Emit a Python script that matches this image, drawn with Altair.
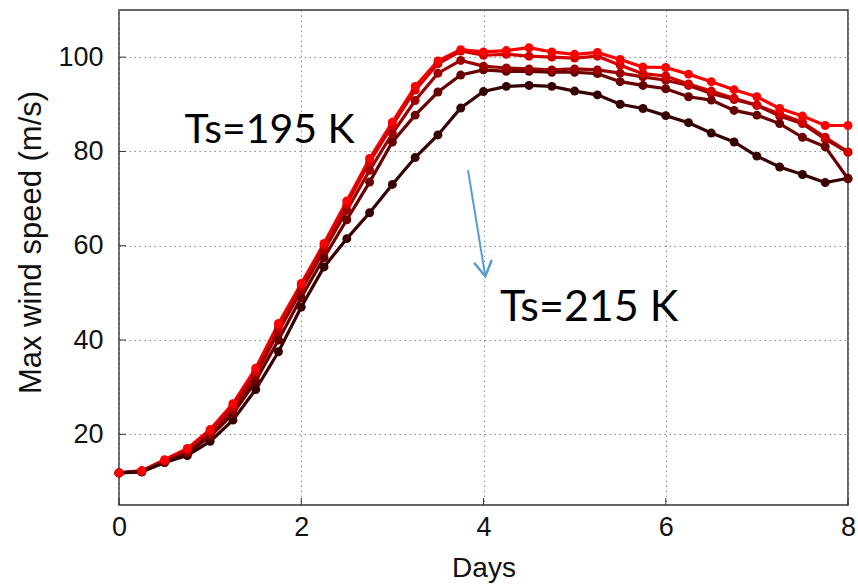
import altair as alt
import pandas as pd

days = [i * 0.25 for i in range(33)]

s195 = [11.8, 12.3, 14.6, 17.0, 21.0, 26.5, 34.0, 43.5, 52.0, 60.5, 69.5, 78.5, 86.2, 93.8, 99.2, 101.6,
        101.1, 101.4, 102.0, 101.1, 100.6, 101.0, 99.5, 97.9, 97.8, 96.4, 94.8, 93.1, 91.6, 89.1, 87.5, 85.5, 85.5]
s200 = [11.8, 12.2, 14.4, 16.8, 20.7, 26.0, 33.3, 42.8, 51.5, 60.0, 68.8, 77.8, 85.5, 93.0, 98.6, 101.3,
        100.4, 100.6, 100.2, 100.0, 99.8, 100.2, 98.3, 96.5, 96.0, 94.3, 92.8, 91.3, 89.8, 88.0, 86.2, 83.0, 79.9]
s205 = [11.8, 12.1, 14.2, 16.3, 20.0, 25.2, 32.5, 41.8, 50.5, 59.0, 67.5, 76.0, 83.8, 90.8, 96.6, 99.3,
        98.1, 97.7, 97.5, 97.3, 97.5, 97.3, 96.6, 95.8, 95.1, 94.0, 92.3, 91.0, 89.8, 87.5, 85.9, 82.6, 79.8]
s210 = [11.8, 12.0, 14.0, 16.0, 19.5, 24.3, 31.3, 40.0, 49.0, 57.5, 65.5, 73.5, 82.0, 87.7, 92.6, 96.2,
        97.3, 97.0, 97.0, 96.8, 96.8, 96.5, 94.8, 94.0, 93.3, 91.6, 90.9, 88.7, 87.7, 85.9, 83.0, 81.0, 74.2]
s215 = [11.8, 12.1, 14.0, 15.5, 18.5, 23.0, 29.5, 37.5, 47.0, 55.5, 61.5, 67.0, 73.0, 78.7, 83.5, 89.2,
        92.7, 93.8, 94.0, 93.8, 92.8, 92.0, 90.0, 89.1, 87.6, 86.1, 83.9, 82.0, 79.0, 76.7, 75.1, 73.4, 74.3]

series_names = ["195 K", "200 K", "205 K", "210 K", "215 K"]
series_vals = [s195, s200, s205, s210, s215]
series_colors = ["#ff0000", "#d20000", "#9c0000", "#680000", "#360000"]

y_ticks = [20, 40, 60, 80, 100]
x_ticks = [0, 2, 4, 6, 8]

labels_text = ["Ts=195 K", "Ts=215 K"]
labels_x = [0.72, 4.18]
labels_y = [84.3, 46.8]
labels_size = [41, 43]

arrow_x = [3.83, 4.02]
arrow_y = [76.0, 53.5]

rows = []
for name, vals in zip(series_names, series_vals):
    for d, v in zip(days, vals):
        rows.append({"day": d, "speed": v, "series": name})
df = pd.DataFrame(rows)

xs = alt.Scale(domain=[0, 8], nice=False)
ys = alt.Scale(domain=[5, 110], nice=False)

color = alt.Color("series:N", scale=alt.Scale(domain=series_names, range=series_colors), legend=None)

base = alt.Chart(df).encode(
    x=alt.X("day:Q", scale=xs, title="Days",
            axis=alt.Axis(values=x_ticks, format="d", grid=True, gridDash=[1.5, 3.5], gridColor="#8a8a8a",
                          tickSize=0, labelPadding=9, labelFontSize=27, titleFontSize=28,
                          titlePadding=14, labelFont="Liberation Sans", titleFont="Liberation Sans",
                          labelFlush=False, labelOverlap=False,
                          domain=False, labelColor="#111", titleColor="#111", titleFontWeight="normal")),
    y=alt.Y("speed:Q", scale=ys, title="Max wind speed (m/s)",
            axis=alt.Axis(values=y_ticks, grid=True, gridDash=[1.5, 3.5], gridColor="#8a8a8a",
                          tickSize=0, labelPadding=16, labelFontSize=27, titleFontSize=31,
                          titlePadding=10, labelFont="Liberation Sans", titleFont="Liberation Sans",
                          titleY=232, labelFlush=False,
                          domain=False, labelColor="#111", titleColor="#111", titleFontWeight="normal")),
    color=color,
    order=alt.Order("series:N", sort="descending"),
)

lines = base.mark_line(strokeWidth=3.2)
points = base.mark_point(filled=True, size=80, opacity=1)

tick_df = pd.DataFrame({"v": y_ticks})
yticks_in = alt.Chart(tick_df).mark_rule(color="#333", strokeWidth=1).encode(
    y=alt.Y("v:Q", scale=ys), x=alt.value(0), x2=alt.value(7))
xtick_df = pd.DataFrame({"d": x_ticks})
xticks_in = alt.Chart(xtick_df).mark_rule(color="#333", strokeWidth=1).encode(
    x=alt.X("d:Q", scale=xs), y=alt.value(495), y2=alt.value(488))

lab_df = pd.DataFrame({"t": labels_text, "x": labels_x, "y": labels_y, "s": labels_size})
labels = alt.Chart(lab_df).mark_text(font="Lato", align="left", baseline="middle",
                                     color="#000").encode(
    x=alt.X("x:Q", scale=xs), y=alt.Y("y:Q", scale=ys), text="t:N",
    size=alt.Size("s:Q", scale=None, legend=None))

arr_df = pd.DataFrame({"x": arrow_x, "y": arrow_y})
arrow_line = alt.Chart(arr_df).mark_line(color="#5b9bd5", strokeWidth=2).encode(
    x=alt.X("x:Q", scale=xs), y=alt.Y("y:Q", scale=ys))
head_df = pd.DataFrame({"x": arrow_x[1:], "y": arrow_y[1:]})
arrow_head = alt.Chart(head_df).mark_point(
    shape="M-1,-1.7L0,0L1,-1.7", filled=False, size=320, strokeWidth=2.5,
    color="#5b9bd5", angle=351, opacity=1).encode(
    x=alt.X("x:Q", scale=xs), y=alt.Y("y:Q", scale=ys))

chart = alt.layer(yticks_in, xticks_in, lines, points, arrow_line, arrow_head, labels).properties(
    width=729, height=495,
    autosize=alt.AutoSizeParams(type="none"),
    padding={"left": 119, "top": 10, "right": 10, "bottom": 79},
    background="white",
).configure_view(stroke="#333", strokeWidth=1.5)

chart.save("out.html", embed_options={"renderer": "svg", "actions": False})
